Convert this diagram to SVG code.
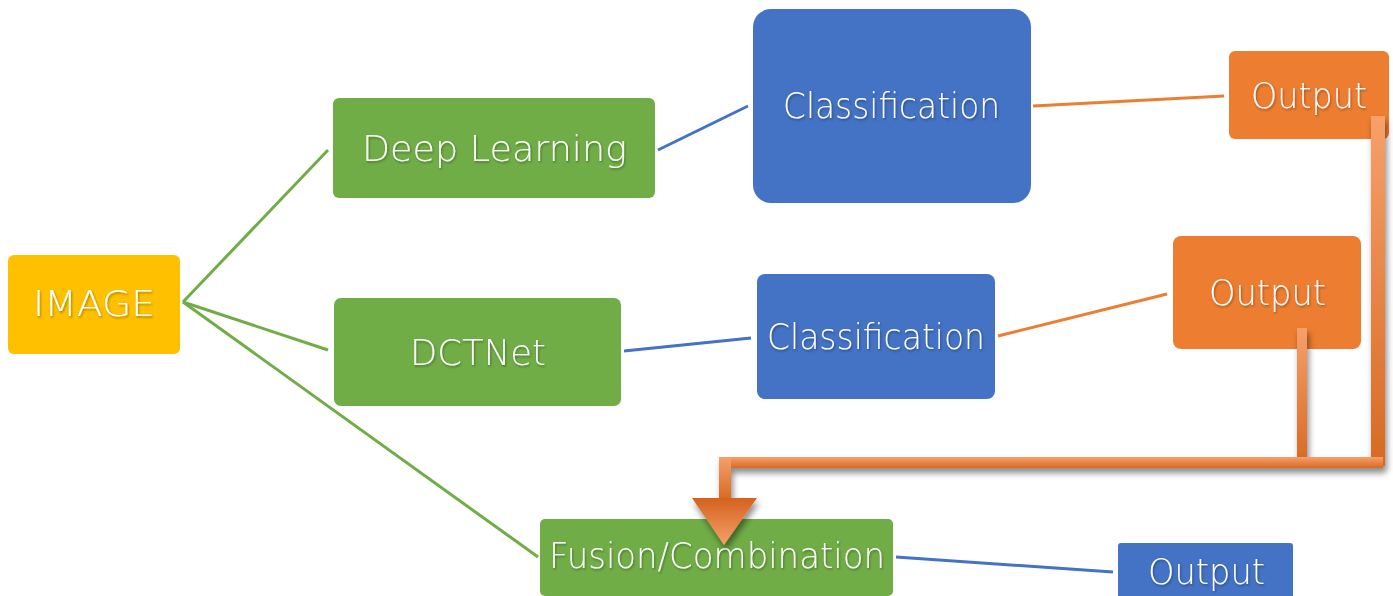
<svg xmlns="http://www.w3.org/2000/svg" width="1393" height="596" viewBox="0 0 1393 596">
<defs>
<style>
.lbl{font-family:"DejaVu Sans","Liberation Sans",Arial,sans-serif;font-weight:200;font-size:35px;fill:#ffffff;filter:url(#ts)}
.g{stroke:#70AD47;stroke-width:3;fill:none}
.b{stroke:#4472C4;stroke-width:3;fill:none}
.o{stroke:#ED7D31;stroke-width:3;fill:none}
</style>
<filter id="ts" x="-5%" y="-20%" width="110%" height="140%">
<feDropShadow dx="1" dy="1.5" stdDeviation="0.8" flood-color="#000" flood-opacity="0.35"/>
</filter>
<filter id="sh" x="-20%" y="-20%" width="140%" height="140%">
<feDropShadow dx="2" dy="5" stdDeviation="3" flood-color="#000" flood-opacity="0.45"/>
</filter>
<linearGradient id="gv" x1="0" y1="0" x2="0" y2="1">
<stop offset="0" stop-color="#F6A06A"/>
<stop offset="1" stop-color="#D86A22"/>
</linearGradient>
<linearGradient id="gh" x1="0" y1="0" x2="0" y2="1">
<stop offset="0" stop-color="#F6A06A"/>
<stop offset="1" stop-color="#D86A22"/>
</linearGradient>
<linearGradient id="gt" x1="0" y1="0" x2="0" y2="1">
<stop offset="0" stop-color="#D4621E"/>
<stop offset="1" stop-color="#F6A06A"/>
</linearGradient>
</defs>

<g id="connectors">
<line class="g" x1="183" y1="302" x2="328" y2="150"/>
<line class="g" x1="183" y1="302" x2="328" y2="350"/>
<line class="g" x1="183" y1="302" x2="538" y2="557"/>
<line class="b" x1="658" y1="150" x2="748" y2="106"/>
<line class="b" x1="624" y1="351" x2="751" y2="338"/>
<line class="b" x1="896" y1="557" x2="1113" y2="572"/>
<line class="o" x1="1033" y1="106" x2="1224" y2="96"/>
<line class="o" x1="998" y1="336" x2="1167" y2="294"/>
</g>

<g id="image">
<rect x="8" y="255" width="172" height="99" rx="6" fill="#FFC000"/>
<text class="lbl" x="33" y="316" textLength="122" lengthAdjust="spacingAndGlyphs">IMAGE</text>
</g>

<g id="deep-learning">
<rect x="333" y="98" width="322" height="100" rx="6" fill="#70AD47"/>
<text class="lbl" x="362" y="161" textLength="265" lengthAdjust="spacingAndGlyphs">Deep Learning</text>
</g>

<g id="classification-1">
<rect x="753" y="9" width="278" height="194" rx="18" fill="#4472C4"/>
<text class="lbl" x="783" y="118" textLength="217" lengthAdjust="spacingAndGlyphs">Classification</text>
</g>

<g id="output-1">
<rect x="1229" y="51" width="160" height="88" rx="6" fill="#ED7D31"/>
<text class="lbl" x="1251" y="108" textLength="116" lengthAdjust="spacingAndGlyphs">Output</text>
</g>

<g id="dctnet">
<rect x="334" y="298" width="287" height="108" rx="7" fill="#70AD47"/>
<text class="lbl" x="410" y="365" textLength="136" lengthAdjust="spacingAndGlyphs">DCTNet</text>
</g>

<g id="classification-2">
<rect x="757" y="274" width="238" height="125" rx="8" fill="#4472C4"/>
<text class="lbl" x="767" y="349" textLength="218" lengthAdjust="spacingAndGlyphs">Classification</text>
</g>

<g id="output-2">
<rect x="1173" y="236" width="188" height="113" rx="8" fill="#ED7D31"/>
<text class="lbl" x="1209" y="305" textLength="117" lengthAdjust="spacingAndGlyphs">Output</text>
</g>

<g id="fusion">
<rect x="540" y="519" width="353" height="77" rx="5" fill="#70AD47"/>
<text class="lbl" x="549" y="568" textLength="336" lengthAdjust="spacingAndGlyphs">Fusion/Combination</text>
</g>

<g id="output-3">
<rect x="1118" y="543" width="175" height="60" rx="3" fill="#4472C4"/>
<text class="lbl" x="1148" y="584" textLength="117" lengthAdjust="spacingAndGlyphs">Output</text>
</g>

<g id="fusion-arrow" filter="url(#sh)">
<rect x="1297" y="328" width="10" height="135" fill="url(#gv)"/>
<rect x="1371" y="116" width="14" height="350" fill="url(#gv)"/>
<rect x="719" y="457" width="664" height="11" fill="url(#gh)"/>
<rect x="719" y="457" width="12" height="42" fill="url(#gv)"/>
<polygon points="692,498 757,498 724,545" fill="url(#gt)"/>
</g>
</svg>
